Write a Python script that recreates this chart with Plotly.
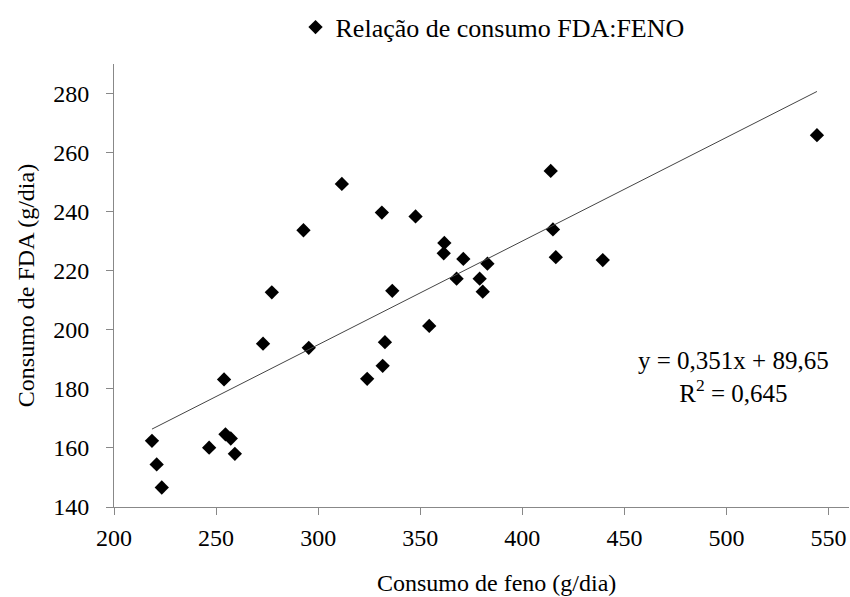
import plotly.graph_objects as go

# Data
feno = [218.6, 220.9, 223.4, 246.6, 253.9, 254.6, 257.2, 259.2, 273.0, 277.3,
        292.8, 295.4, 311.6, 324.0, 331.2, 331.6, 332.7, 336.3, 347.7, 354.4,
        361.8, 361.5, 367.8, 371.1, 379.1, 380.6, 382.9, 413.9, 415.0, 416.4,
        439.4, 544.3]
fda = [162.4, 154.4, 146.6, 160.1, 183.2, 164.6, 163.2, 158.0, 195.3, 212.7,
       233.7, 193.9, 249.4, 183.4, 239.7, 187.8, 195.8, 213.2, 238.4, 201.3,
       229.4, 225.9, 217.3, 224.0, 217.3, 212.9, 222.4, 253.8, 234.0, 224.6,
       223.6, 265.9]

slope = 0.351
intercept = 89.65
r2_text = "0,645"
eq_text = "y = 0,351x + 89,65"
x_title = "Consumo de feno (g/dia)"
y_title = "Consumo de FDA (g/dia)"
series_name = "Relação de consumo FDA:FENO"

x_ticks = [200, 250, 300, 350, 400, 450, 500, 550]
y_ticks = [140, 160, 180, 200, 220, 240, 260, 280]

trend_x = [min(feno), max(feno)]
trend_y = [slope * v + intercept for v in trend_x]

FONT = "Times New Roman, Liberation Serif, Tinos, serif"
FS = 24

fig = go.Figure()
fig.add_trace(go.Scatter(
    x=feno, y=fda, mode="markers",
    name=series_name,
    marker=dict(symbol="diamond", size=11, color="black", line=dict(width=0)),
))
fig.add_trace(go.Scatter(
    x=trend_x, y=trend_y, mode="lines", showlegend=False,
    line=dict(color="#444444", width=1),
))

# regression equation
fig.add_annotation(
    x=0.975, y=0.222, xref="paper", yref="paper",
    text=eq_text + "<br>R<sup>2</sup> = " + r2_text,
    showarrow=False, align="center",
    font=dict(family=FONT, size=25, color="black"),
)
# x-axis title (centred on the chart area, as in the reference)
fig.add_annotation(
    x=0.52, y=-0.172, xref="paper", yref="paper",
    text=x_title, showarrow=False, yanchor="middle", xanchor="center",
    font=dict(family=FONT, size=FS, color="black"),
)

axis_common = dict(
    showgrid=False, zeroline=False, showline=True, linecolor="#888888",
    linewidth=1, ticks="outside", ticklen=7, tickcolor="#888888",
    tickfont=dict(family=FONT, size=FS, color="black"),
    automargin=False,
)

fig.update_layout(
    width=850, height=597,
    paper_bgcolor="white", plot_bgcolor="white",
    margin=dict(l=114, r=1, t=64, b=90, autoexpand=False),
    font=dict(family=FONT, size=FS, color="black"),
    showlegend=True,
    legend=dict(x=0.515, y=1.03, xanchor="center", yanchor="bottom",
                orientation="h", font=dict(family=FONT, size=26),
                bgcolor="rgba(0,0,0,0)", itemwidth=30),
    xaxis=dict(range=[200, 560], tickvals=x_ticks, ticklabelstandoff=2,
               **axis_common),
    yaxis=dict(range=[140, 290], tickvals=y_ticks, ticklabelstandoff=12,
               title=dict(text=y_title, font=dict(family=FONT, size=FS), standoff=11),
               **axis_common),
)

fig.write_html("out.html", post_script="document.body.style.margin='0';",
               config={"displayModeBar": False})
